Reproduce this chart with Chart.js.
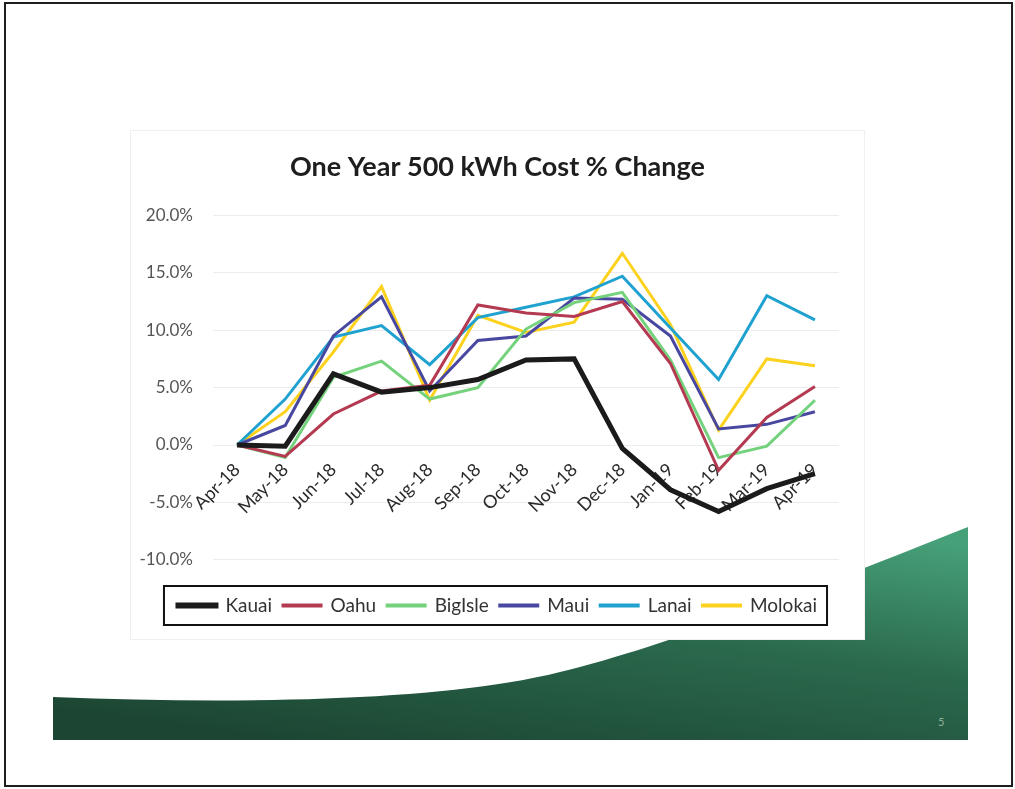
<!DOCTYPE html>
<html>
<head>
<meta charset="utf-8">
<title>One Year 500 kWh Cost % Change</title>
<script src="https://cdn.jsdelivr.net/npm/chart.js@4.4.1/dist/chart.umd.min.js"></script>
<style>
  html, body { margin: 0; padding: 0; background: #fff; }
  body { width: 1015px; height: 789px; position: relative; overflow: hidden; font-family: Lato, sans-serif; }
  .frame { position: absolute; left: 4px; top: 2px; width: 1005px; height: 781px; border: 2px solid #1e1e1e; }
  .wave { position: absolute; left: 0; top: 0; }
  .card { position: absolute; left: 130px; top: 130px; width: 735px; height: 510px; background: #fff; border: 1px solid #f0f0f0; box-sizing: border-box; }
  .plot { position: absolute; left: 130px; top: 130px; width: 735px; height: 510px; }
  .pageno { position: absolute; left: 938px; top: 715px; font-size: 11px; color: #8fb0a0; }
</style>
</head>
<body>
<div class="frame"></div>
<svg class="wave" width="1015" height="789">
  <defs>
    <linearGradient id="waveFill" x1="0.85" y1="0" x2="0.25" y2="1">
      <stop offset="0" stop-color="#46a078"/>
      <stop offset="0.45" stop-color="#2b6a4d"/>
      <stop offset="1" stop-color="#1c4633"/>
    </linearGradient>
  </defs>
  <path d="M53,697 C250,705 450,700 560,672 C650,650 760,610 968,527 L968,740 L53,740 Z" fill="url(#waveFill)"/>
</svg>
<div class="pageno">5</div>
<div class="card"></div>
<div class="plot"><canvas id="costChart" width="735" height="510"></canvas></div>

<script>
// months along the category axis
const months = ['Apr-18', 'May-18', 'Jun-18', 'Jul-18', 'Aug-18', 'Sep-18', 'Oct-18',
  'Nov-18', 'Dec-18', 'Jan-19', 'Feb-19', 'Mar-19', 'Apr-19'];

// year-over-year change of a 500 kWh bill, in percent
const kauai   = [0, -0.1, 6.2, 4.6, 5.0, 5.7, 7.4, 7.5, -0.3, -3.9, -5.8, -3.8, -2.5];
const oahu    = [0, -1.0, 2.7, 4.7, 5.2, 12.2, 11.5, 11.2, 12.5, 7.1, -2.2, 2.4, 5.1];
const bigIsle = [0, -1.1, 5.9, 7.3, 4.0, 5.0, 10.1, 12.4, 13.3, 7.4, -1.1, -0.1, 3.9];
const maui    = [0, 1.7, 9.5, 12.9, 4.7, 9.1, 9.5, 12.8, 12.7, 9.5, 1.4, 1.8, 2.9];
const lanai   = [0, 4.0, 9.4, 10.4, 7.0, 11.1, 12.0, 12.9, 14.7, 10.2, 5.7, 13.0, 10.9];
const molokai = [0, 2.9, 8.1, 13.8, 3.9, 11.3, 9.8, 10.7, 16.7, 10.5, 1.3, 7.5, 6.9];

const yTicks = { min: -10, max: 20, step: 5 };

const FONT = 'Lato, "Open Sans", sans-serif';

function series(label, data, color, width) {
  return {
    label,
    data,
    borderColor: color,
    backgroundColor: color,
    borderWidth: width,
    pointRadius: 0,
    pointHoverRadius: 0,
    tension: 0,
    fill: false,
  };
}

// frame drawn around the legend items
const legendFrame = {
  id: 'legendFrame',
  afterDraw(chart) {
    const boxes = chart.legend && chart.legend.legendHitBoxes;
    if (!boxes || !boxes.length) return;
    const left = Math.min(...boxes.map(b => b.left)) - 14;
    const right = Math.max(...boxes.map(b => b.left + b.width)) + 10;
    const top = boxes[0].top - 10;
    const bottom = boxes[0].top + boxes[0].height + 10;
    const ctx = chart.ctx;
    ctx.save();
    ctx.strokeStyle = '#111';
    ctx.lineWidth = 2;
    ctx.strokeRect(left, top, right - left, bottom - top);
    ctx.restore();
  },
};

new Chart(document.getElementById('costChart'), {
  type: 'line',
  data: {
    labels: months,
    datasets: [
      series('Kauai', kauai, '#1b1b1b', 5),
      series('Oahu', oahu, '#b33a50', 3),
      series('BigIsle', bigIsle, '#74d27c', 3),
      series('Maui', maui, '#4848a0', 3),
      series('Lanai', lanai, '#20a2d0', 3),
      series('Molokai', molokai, '#fdd21e', 3),
    ],
  },
  options: {
    responsive: false,
    animation: false,
    layout: { padding: { left: 0, right: 0, top: 0, bottom: 15 } },
    plugins: {
      title: {
        display: true,
        text: 'One Year 500 kWh Cost % Change',
        color: '#1e1e1e',
        font: { family: FONT, size: 27, weight: 'bold' },
        padding: { top: 21, bottom: 32 },
      },
      legend: {
        position: 'bottom',
        title: { display: true, text: '', font: { size: 1 }, padding: { top: 24, bottom: 0 } },
        labels: {
          color: '#333',
          font: { family: FONT, size: 19 },
          boxWidth: 38,
          boxHeight: 1,
          padding: 11,
        },
      },
      tooltip: { enabled: false },
    },
    scales: {
      x: {
        position: { y: 0 },
        offset: true,
        grid: { display: false, drawTicks: false },
        border: { display: false },
        ticks: {
          color: '#2a2a2a',
          font: { family: FONT, size: 18 },
          minRotation: 45,
          maxRotation: 45,
          autoSkip: false,
          padding: 14,
        },
      },
      y: {
        min: yTicks.min,
        max: yTicks.max,
        grid: { color: '#ececec', drawTicks: false },
        border: { display: false },
        ticks: {
          stepSize: yTicks.step,
          color: '#555',
          font: { family: FONT, size: 17 },
          padding: 20,
          callback: (v) => v.toFixed(1) + '%',
        },
        afterFit: (scale) => { scale.width = 83; },
      },
      // empty right-hand margin so the title and legend centre on the whole card
      yRight: {
        position: 'right',
        grid: { display: false, drawTicks: false },
        border: { display: false },
        ticks: { display: false },
        afterFit: (scale) => { scale.width = 26; },
      },
    },
  },
  plugins: [legendFrame],
});
</script>
</body>
</html>
